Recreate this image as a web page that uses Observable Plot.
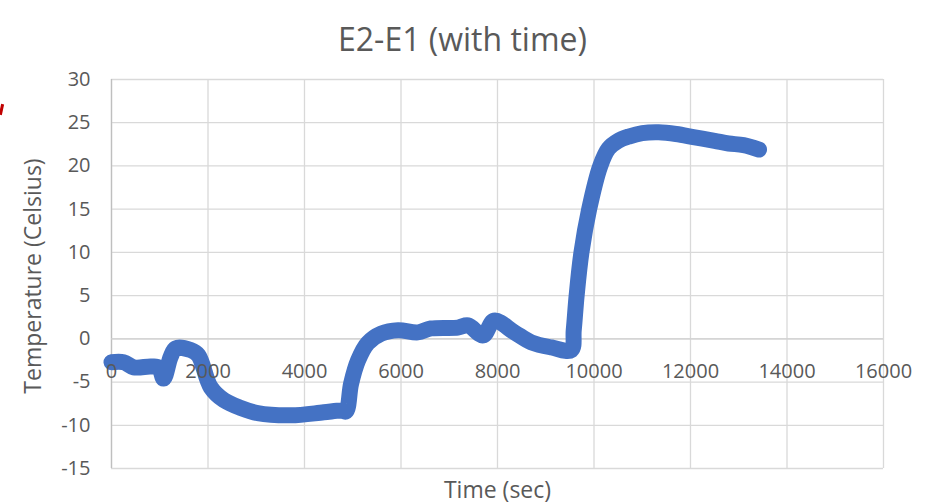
<!DOCTYPE html>
<html>
<head>
<meta charset="utf-8">
<script src="https://cdn.jsdelivr.net/npm/d3@7"></script>
<script src="https://cdn.jsdelivr.net/npm/@observablehq/plot@0.6"></script>
<style>
  html, body { margin: 0; padding: 0; background: #fff; }
  #wrap { position: relative; width: 930px; height: 504px; overflow: hidden; }
  #mark { position: absolute; left: 0px; top: 104px; width: 3px; height: 11px; background: #c00000; transform: rotate(12deg); z-index: 2; }
</style>
</head>
<body>
<div id="wrap"><div id="mark"></div></div>
<script>
const title = "E2-E1 (with time)";
const xLabel = "Time (sec)";
const yLabel = "Temperature (Celsius)";
const xTicks = [0, 2000, 4000, 6000, 8000, 10000, 12000, 14000, 16000];
const yTicks = [-15, -10, -5, 0, 5, 10, 15, 20, 25, 30];

const time = [0, 250, 460, 810, 980, 1080, 1225, 1330, 1640, 1800, 2055, 2330, 2680, 3030, 3720, 4400, 4760, 4860, 4965, 5110, 5310, 5590, 5940, 6350, 6620, 7180, 7390, 7700, 7930, 8350, 8700, 9120, 9530, 9580, 9640, 9740, 9900, 10130, 10300, 10500, 10720, 11000, 11340, 11700, 12090, 12500, 12790, 13100, 13420];
const temp = [-2.7, -2.7, -3.3, -3.2, -3.3, -4.6, -2.1, -1.1, -1.3, -1.9, -5.6, -7.1, -8.0, -8.6, -8.85, -8.5, -8.3, -8.4, -5.2, -2.5, -0.5, 0.6, 1.0, 0.75, 1.2, 1.3, 1.55, 0.4, 2.1, 0.75, -0.4, -1.0, -1.3, 1.0, 5, 10, 15, 20, 22, 22.9, 23.4, 23.8, 23.9, 23.7, 23.3, 22.9, 22.6, 22.4, 21.9];

const data = time.map((t, i) => ({t, v: temp[i]}));
const textColor = "#595959";

const chart = Plot.plot({
  width: 930,
  height: 504,
  marginLeft: 111,
  marginRight: 47,
  marginTop: 79,
  marginBottom: 36,
  style: {fontFamily: "'Open Sans', sans-serif", background: "#fff", overflow: "visible"},
  x: {domain: [0, 16000], axis: null},
  y: {domain: [-15, 30], axis: null},
  marks: [
    Plot.ruleX(xTicks, {stroke: "#d9d9d9", strokeWidth: 1.3, strokeOpacity: 1}),
    Plot.ruleY(yTicks, {stroke: "#d9d9d9", strokeWidth: 1.3, strokeOpacity: 1}),
    Plot.ruleX([0], {stroke: "#bfbfbf", strokeWidth: 1.3, strokeOpacity: 1}),
    Plot.ruleY([0], {stroke: "#d0d0d0", strokeWidth: 1.3, strokeOpacity: 1}),
    Plot.line(data, {x: "t", y: "v", stroke: "#4472C4", strokeWidth: 16, strokeLinecap: "round", strokeLinejoin: "round", curve: "catmull-rom"}),
    Plot.text(yTicks, {x: 0, y: d => d, text: d => String(d), textAnchor: "end", dx: -21, fontSize: 20, fill: textColor}),
    Plot.text(xTicks, {x: d => d, y: 0, text: d => String(d), dy: 33, fontSize: 20, fill: textColor}),
    Plot.text([title], {frameAnchor: "top", textAnchor: "middle", dy: -51, dx: -35, fontSize: 32, fill: textColor}),
    Plot.text([xLabel], {frameAnchor: "bottom", textAnchor: "middle", dy: 29, fontSize: 23, fill: textColor}),
    Plot.text([yLabel], {frameAnchor: "left", textAnchor: "middle", dx: -78, dy: 2, rotate: -90, fontSize: 23, fill: textColor})
  ]
});
document.getElementById("wrap").appendChild(chart);
</script>
</body>
</html>
